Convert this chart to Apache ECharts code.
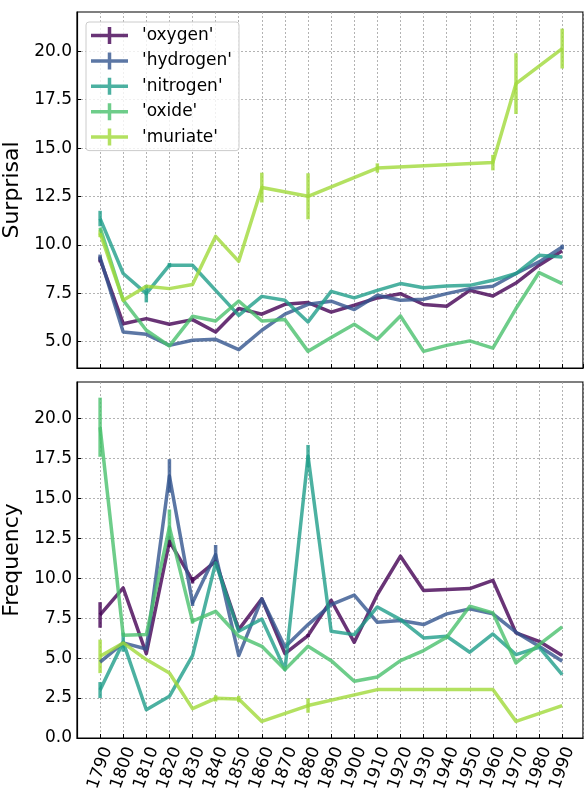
<!DOCTYPE html>
<html>
<head>
<meta charset="utf-8">
<script src="https://cdn.jsdelivr.net/npm/echarts@6/dist/echarts.min.js"></script>
<style>
  html, body { margin: 0; padding: 0; background: #fff; }
  #chart { width: 584px; height: 789px; }
</style>
</head>
<body>
<div id="chart"></div>
<script>
// Decades on the shared x axis
const years = [1790, 1800, 1810, 1820, 1830, 1840, 1850, 1860, 1870, 1880, 1890,
               1900, 1910, 1920, 1930, 1940, 1950, 1960, 1970, 1980, 1990];

const names = ["'oxygen'", "'hydrogen'", "'nitrogen'", "'oxide'", "'muriate'"];

// Surprisal per decade
const oxygenS   = [9.25, 5.93, 6.19, 5.90, 6.14, 5.50, 6.71, 6.42, 6.93, 7.02, 6.53, 6.88, 7.26, 7.48, 6.92, 6.83, 7.65, 7.36, 8.03, 8.95, 9.69];
const hydrogenS = [9.35, 5.50, 5.38, 4.81, 5.07, 5.12, 4.59, 5.59, 6.42, 6.93, 7.09, 6.66, 7.40, 7.14, 7.19, 7.48, 7.74, 7.86, 8.52, 9.12, 9.89];
const nitrogenS = [11.36, 8.52, 7.48, 8.95, 8.95, 7.65, 6.36, 7.34, 7.14, 6.02, 7.60, 7.26, 7.65, 8.00, 7.79, 7.88, 7.91, 8.17, 8.52, 9.46, 9.38];
const oxideS    = [10.9, 7.14, 5.59, 4.78, 6.31, 6.07, 7.10, 6.07, 6.14, 4.50, 5.21, 5.90, 5.12, 6.33, 4.50, 4.81, 5.04, 4.67, 6.71, 8.57, 8.00];
const muriateS  = [10.6, 7.14, 7.86, 7.74, 7.95, 10.44, 9.15, 12.96, null, 12.51, null, null, 13.97, null, null, null, null, 14.25, 18.33, null, 20.14];

// Surprisal error (half-width)
const oxygenSE   = [0.15, 0, 0, 0, 0, 0, 0, 0, 0, 0, 0, 0, 0, 0, 0, 0, 0, 0, 0, 0, 0];
const hydrogenSE = [0.15, 0, 0, 0, 0, 0, 0, 0, 0, 0, 0, 0, 0, 0, 0, 0, 0, 0, 0, 0, 0.12];
const nitrogenSE = [0.4, 0, 0.45, 0.12, 0, 0, 0, 0, 0, 0, 0, 0, 0, 0, 0, 0, 0, 0, 0, 0, 0];
const oxideSE    = [0, 0, 0, 0, 0, 0, 0, 0, 0, 0, 0, 0, 0, 0, 0, 0, 0, 0, 0, 0, 0];
const muriateSE  = [0.2, 0, 0, 0, 0, 0, 0, 0.77, 0, 1.19, 0, 0, 0.24, 0, 0, 0, 0, 0.4, 1.57, 0, 1.03];

// Frequency per decade
const oxygenF   = [7.7, 9.39, 5.28, 12.3, 9.87, 11.06, 6.78, 8.71, 5.28, 6.41, 8.62, 5.99, 8.98, 11.38, 9.23, 9.29, 9.35, 9.87, 6.58, 6.05, 5.16];
const hydrogenF = [4.75, 5.95, 5.57, 16.4, 8.46, 11.48, 5.16, 8.71, 5.70, 7.10, 8.35, 8.94, 7.24, 7.35, 7.10, 7.77, 8.08, 7.77, 6.62, 5.74, 4.80];
const nitrogenF = [3.0, 6.0, 1.77, 2.61, 5.16, 10.96, 6.68, 7.45, 4.28, 17.64, 6.68, 6.47, 8.20, 7.41, 6.26, 6.37, 5.37, 6.51, 5.22, 5.68, 3.97];
const oxideF    = [19.45, 6.43, 6.47, 13.2, 7.31, 7.93, 6.37, 5.74, 4.28, 5.74, 4.84, 3.55, 3.82, 4.84, 5.47, 6.30, 8.25, 7.83, 4.70, 5.85, 6.95];
const muriateF  = [5.11, 5.95, 4.91, 4.07, 1.84, 2.48, 2.44, 1.04, null, 2.03, null, null, 3.03, null, null, null, null, 3.03, 1.04, null, 2.03];

// Frequency error (half-width)
const oxygenFE   = [0.8, 0, 0, 0.35, 0.2, 0, 0, 0, 0, 0.1, 0, 0, 0, 0, 0, 0, 0, 0, 0, 0, 0];
const hydrogenFE = [0, 0, 0, 1.05, 0.2, 0.6, 0, 0, 0, 0, 0, 0, 0, 0, 0, 0, 0, 0, 0, 0, 0];
const nitrogenFE = [0.5, 0.6, 0, 0, 0, 0, 0, 0, 0, 0.7, 0, 0, 0, 0, 0, 0, 0, 0, 0, 0, 0];
const oxideFE    = [1.85, 0, 0, 1.1, 0.15, 0, 0, 0, 0, 0, 0, 0, 0, 0, 0, 0, 0, 0, 0, 0, 0];
const muriateFE  = [1.05, 0, 0, 0, 0, 0.2, 0.2, 0, 0, 0.45, 0, 0, 0, 0, 0, 0, 0, 0, 0, 0, 0];

// Axis tick values
const surprisalTicks = [5, 7.5, 10, 12.5, 15, 17.5, 20];
const frequencyTicks = [0, 2.5, 5, 7.5, 10, 12.5, 15, 17.5, 20];

const colors = ['#440154', '#33558f', '#1f9e89', '#4ac16d', '#a0da39'];
const FONT = 'DejaVu Sans';
const LW = 3.5;
const ALPHA = 0.8;

const surprisal = [oxygenS, hydrogenS, nitrogenS, oxideS, muriateS];
const surprisalErr = [oxygenSE, hydrogenSE, nitrogenSE, oxideSE, muriateSE];
const frequency = [oxygenF, hydrogenF, nitrogenF, oxideF, muriateF];
const frequencyErr = [oxygenFE, hydrogenFE, nitrogenFE, oxideFE, muriateFE];

const chart = echarts.init(document.getElementById('chart'), null, { renderer: 'canvas' });

function lineSeries(vals, i, gridIdx) {
  const data = [];
  vals.forEach((v, k) => { if (v != null) data.push([years[k], v]); });
  return {
    type: 'line', name: names[i], xAxisIndex: gridIdx, yAxisIndex: gridIdx,
    data, symbol: 'none', silent: true, animation: false,
    lineStyle: { color: colors[i], width: LW, opacity: ALPHA, cap: 'butt', join: 'round' },
    itemStyle: { color: colors[i] }
  };
}

function errSeries(vals, errs, i, gridIdx) {
  const data = [];
  vals.forEach((v, k) => {
    if (v != null && errs[k] > 0) data.push([years[k], v - errs[k], v + errs[k]]);
  });
  return {
    type: 'custom', name: names[i], xAxisIndex: gridIdx, yAxisIndex: gridIdx,
    data, silent: true, animation: false,
    encode: { x: 0, y: [1, 2] },
    renderItem(params, api) {
      const p1 = api.coord([api.value(0), api.value(1)]);
      const p2 = api.coord([api.value(0), api.value(2)]);
      return {
        type: 'line',
        shape: { x1: p1[0], y1: p1[1], x2: p2[0], y2: p2[1] },
        style: { stroke: colors[i], lineWidth: LW, opacity: ALPHA }
      };
    }
  };
}

const gridLine = { show: true, lineStyle: { color: '#a0a0a0', width: 0.8, type: [2, 2] } };

function xAxis(gridIdx, showLabels) {
  return {
    type: 'value', gridIndex: gridIdx, min: 1780, max: 1999, interval: 10,
    axisLine: { show: true, onZero: false, lineStyle: { color: '#000', width: 1.2 } },
    axisTick: { show: true, inside: true, length: 4, lineStyle: { color: '#000', width: 1 } },
    axisLabel: {
      show: showLabels, rotate: 70, align: 'center', verticalAlign: 'middle', margin: 30,
      fontFamily: FONT, fontSize: 17, color: '#000',
      showMinLabel: false, showMaxLabel: false,
      formatter: v => String(v)
    },
    splitLine: gridLine
  };
}

function yAxis(gridIdx, min, max, ticks, name) {
  return {
    type: 'value', gridIndex: gridIdx, min, max,
    name, nameLocation: 'middle', nameGap: 46, nameRotate: 90,
    nameTextStyle: { fontFamily: FONT, fontSize: 22, color: '#000' },
    axisLine: { show: true, onZero: false, lineStyle: { color: '#000', width: 1.2 } },
    axisTick: { show: true, inside: true, length: 4, customValues: ticks, lineStyle: { color: '#000', width: 1 } },
    axisLabel: {
      fontFamily: FONT, fontSize: 17, color: '#000', margin: 5,
      customValues: ticks, formatter: v => Number(v).toFixed(1)
    },
    splitLine: gridLine
  };
}

const series = [];
for (let i = 0; i < 5; i++) {
  series.push(lineSeries(surprisal[i], i, 0));
  series.push(errSeries(surprisal[i], surprisalErr[i], i, 0));
}
for (let i = 0; i < 5; i++) {
  series.push(lineSeries(frequency[i], i, 1));
  series.push(errSeries(frequency[i], frequencyErr[i], i, 1));
}

const legendIcon = 'path://M0,6.75H37V10.25H0Z M16.75,0H20.25V17H16.75Z';

const gridBase = {
  left: 77, width: 506, height: 356, show: true,
  borderColor: '#000', borderWidth: 1.2, backgroundColor: 'transparent',
  containLabel: false, outerBoundsMode: 'none'
};

chart.setOption({
  animation: false,
  backgroundColor: '#fff',
  grid: [
    Object.assign({ top: 12 }, gridBase),
    Object.assign({ top: 382 }, gridBase)
  ],
  xAxis: [xAxis(0, false), xAxis(1, true)],
  yAxis: [
    yAxis(0, 3.64, 22.03, surprisalTicks, 'Surprisal'),
    yAxis(1, 0, 22.28, frequencyTicks, 'Frequency')
  ],
  legend: {
    show: true, orient: 'vertical', left: 86, top: 22,
    itemWidth: 37, itemHeight: 17, itemGap: 8.4,
    padding: [5, 7, 5, 5],
    backgroundColor: 'rgba(255,255,255,0.8)', borderColor: '#cccccc', borderWidth: 1, borderRadius: 3,
    selectedMode: false, z: 10,
    textStyle: { fontFamily: FONT, fontSize: 17, color: '#000', padding: [0, 0, 0, 9] },
    data: names.map((n, i) => ({ name: n, icon: legendIcon, itemStyle: { color: colors[i], opacity: ALPHA } }))
  },
  series
});
</script>
</body>
</html>
